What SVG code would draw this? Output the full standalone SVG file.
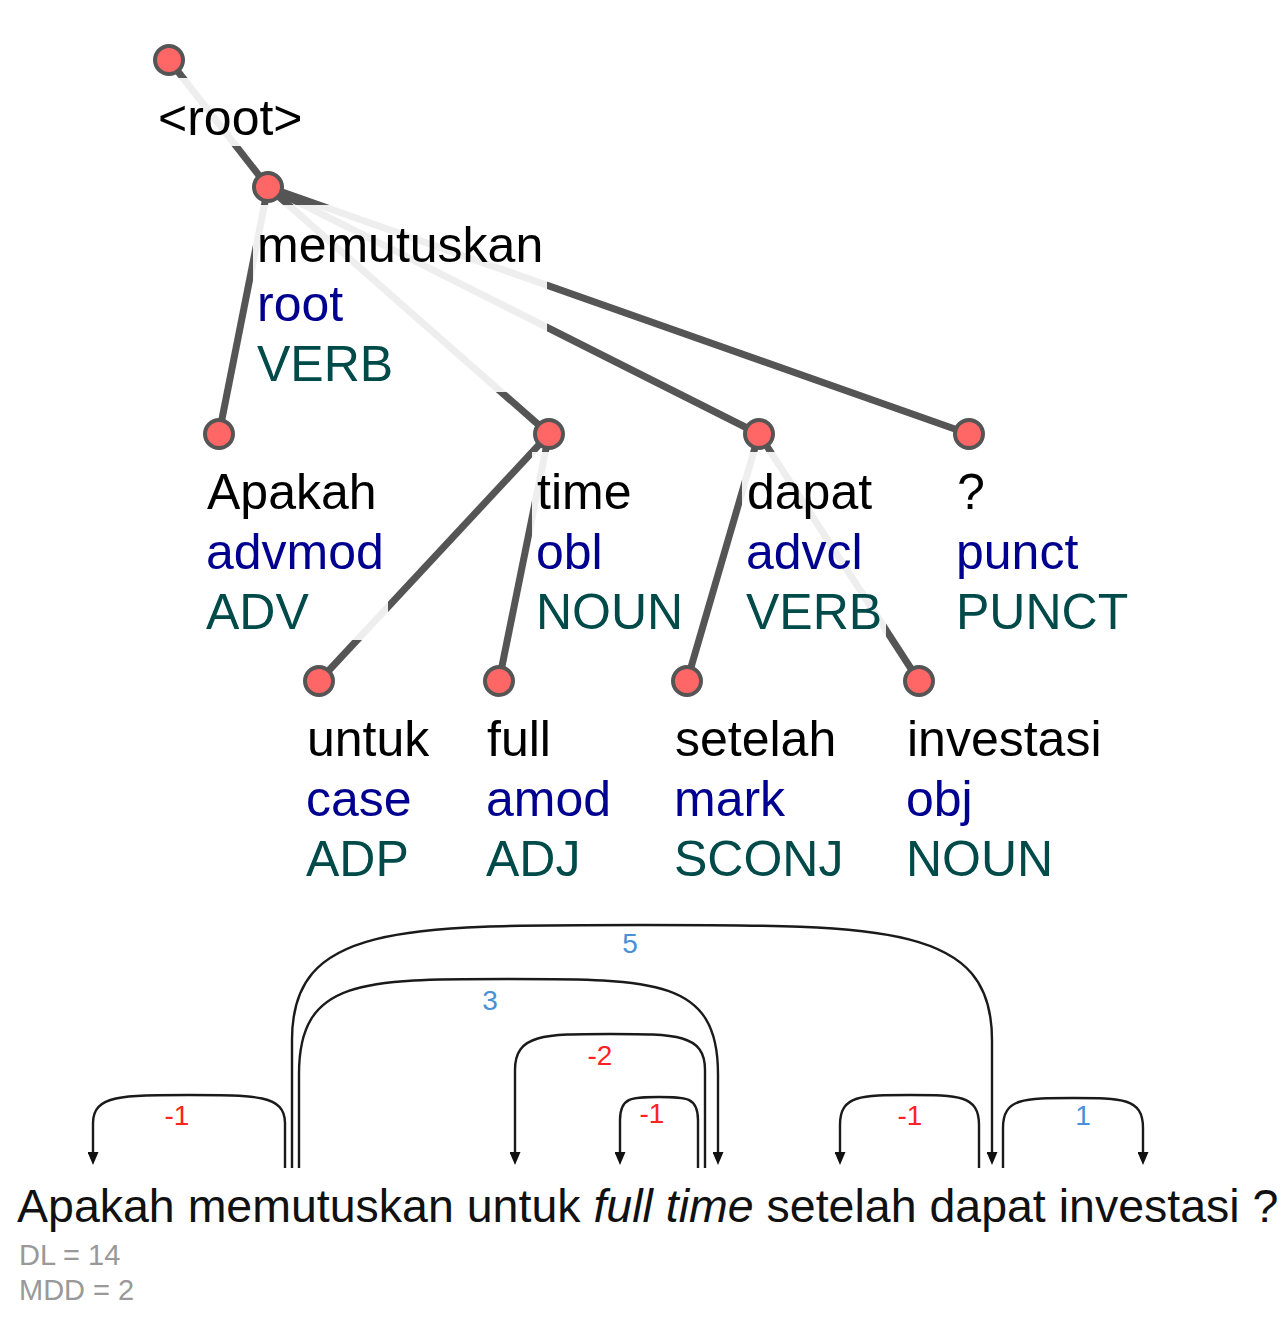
<svg xmlns="http://www.w3.org/2000/svg" width="1288" height="1334" viewBox="0 0 1288 1334">
<style>
.edge{stroke:#555;stroke-width:7;fill:none}
.box{fill:#fff;fill-opacity:0.9}
.node{fill:#ff6666;stroke:#555;stroke-width:4}
.w{font-family:"Liberation Sans",Arial,sans-serif;font-size:50px;fill:#000}
.d{font-family:"Liberation Sans",Arial,sans-serif;font-size:50px;fill:#000090}
.p{font-family:"Liberation Sans",Arial,sans-serif;font-size:50px;fill:#004a4a}
.arc{stroke:#1a1a1a;stroke-width:2.4;fill:none}
.arr{marker-end:url(#ah)}
.neg{font-family:"Liberation Sans",Arial,sans-serif;font-size:28px;fill:#f22;text-anchor:middle}
.pos{font-family:"Liberation Sans",Arial,sans-serif;font-size:28px;fill:#4a90d6;text-anchor:middle}
.sent{font-family:"Liberation Sans",Arial,sans-serif;font-size:46.5px;fill:#111}
.stat{font-family:"Liberation Sans",Arial,sans-serif;font-size:29px;fill:#999}
</style>
<defs>
<marker id="ah" viewBox="0 0 13 11" refX="5" refY="5.5" markerWidth="13" markerHeight="11" markerUnits="userSpaceOnUse" orient="auto">
<path d="M0,0 L13,5.5 L0,11 z" fill="#111"/>
</marker>
</defs>
<rect width="1288" height="1334" fill="#fff"/>
<g id="edges">
<line class="edge" x1="169" y1="60" x2="268" y2="187"/>
<line class="edge" x1="268" y1="187" x2="219" y2="434"/>
<line class="edge" x1="268" y1="187" x2="549" y2="434"/>
<line class="edge" x1="268" y1="187" x2="759" y2="434"/>
<line class="edge" x1="268" y1="187" x2="969" y2="434"/>
<line class="edge" x1="549" y1="434" x2="319" y2="681"/>
<line class="edge" x1="549" y1="434" x2="499" y2="681"/>
<line class="edge" x1="759" y1="434" x2="687" y2="681"/>
<line class="edge" x1="759" y1="434" x2="919" y2="681"/>
</g>
<g id="n-root">
<rect class="box" x="154" y="78" width="153" height="68"/>
<text class="w" x="158" y="135">&lt;root&gt;</text>
<circle class="node" cx="169" cy="60" r="14"/>
</g>
<g id="n-memutuskan">
<rect class="box" x="253" y="205" width="294" height="187"/>
<text class="w" x="257" y="262">memutuskan</text>
<text class="d" x="257" y="321">root</text>
<text class="p" x="257" y="381">VERB</text>
<circle class="node" cx="268" cy="187" r="14"/>
</g>
<g id="n-apakah">
<rect class="box" x="202" y="452" width="186" height="188"/>
<text class="w" x="207" y="509">Apakah</text>
<text class="d" x="206" y="569">advmod</text>
<text class="p" x="206" y="629">ADV</text>
<circle class="node" cx="219" cy="434" r="14"/>
</g>
<g id="n-time">
<rect class="box" x="532" y="452" width="155" height="188"/>
<text class="w" x="537" y="509">time</text>
<text class="d" x="536" y="569">obl</text>
<text class="p" x="536" y="629">NOUN</text>
<circle class="node" cx="549" cy="434" r="14"/>
</g>
<g id="n-dapat">
<rect class="box" x="742" y="452" width="144" height="188"/>
<text class="w" x="747" y="509">dapat</text>
<text class="d" x="746" y="569">advcl</text>
<text class="p" x="746" y="629">VERB</text>
<circle class="node" cx="759" cy="434" r="14"/>
</g>
<g id="n-punct">
<rect class="box" x="952" y="452" width="178" height="188"/>
<text class="w" x="957" y="509">?</text>
<text class="d" x="956" y="569">punct</text>
<text class="p" x="956" y="629">PUNCT</text>
<circle class="node" cx="969" cy="434" r="14"/>
</g>
<g id="n-untuk">
<rect class="box" x="302" y="699" width="132" height="188"/>
<text class="w" x="307" y="756">untuk</text>
<text class="d" x="306" y="816">case</text>
<text class="p" x="306" y="876">ADP</text>
<circle class="node" cx="319" cy="681" r="14"/>
</g>
<g id="n-full">
<rect class="box" x="482" y="699" width="130" height="188"/>
<text class="w" x="487" y="756">full</text>
<text class="d" x="486" y="816">amod</text>
<text class="p" x="486" y="876">ADJ</text>
<circle class="node" cx="499" cy="681" r="14"/>
</g>
<g id="n-setelah">
<rect class="box" x="670" y="699" width="172" height="188"/>
<text class="w" x="675" y="756">setelah</text>
<text class="d" x="674" y="816">mark</text>
<text class="p" x="674" y="876">SCONJ</text>
<circle class="node" cx="687" cy="681" r="14"/>
</g>
<g id="n-investasi">
<rect class="box" x="902" y="699" width="203" height="188"/>
<text class="w" x="907" y="756">investasi</text>
<text class="d" x="906" y="816">obj</text>
<text class="p" x="906" y="876">NOUN</text>
<circle class="node" cx="919" cy="681" r="14"/>
</g>
<g id="arcs">
<path class="arc arr" d="M285,1168 V1123 C285,1095 256,1095 189,1095 C122,1095 93,1095 93,1123 V1157"/>
<path class="arc arr" d="M292,1168 V1040 C292,925 397,925 642,925 C887,925 992,925 992,1040 V1157"/>
<path class="arc arr" d="M299,1168 V1074 C299,979 362,979 508,979 C655,979 718,979 718,1074 V1157"/>
<path class="arc arr" d="M705,1168 V1070 C705,1034 676,1034 610,1034 C544,1034 515,1034 515,1070 V1157"/>
<path class="arc arr" d="M698,1168 V1120 C698,1097 686,1097 659,1097 C632,1097 620,1097 620,1120 V1157"/>
<path class="arc arr" d="M979,1168 V1125 C979,1095 958,1095 910,1095 C861,1095 840,1095 840,1125 V1157"/>
<path class="arc arr" d="M1003,1168 V1128 C1003,1098 1024,1098 1073,1098 C1122,1098 1143,1098 1143,1128 V1157"/>
<text class="neg" x="177" y="1125">-1</text>
<text class="pos" x="630" y="953">5</text>
<text class="pos" x="490" y="1010">3</text>
<text class="neg" x="600" y="1065">-2</text>
<text class="neg" x="652" y="1123">-1</text>
<text class="neg" x="910" y="1125">-1</text>
<text class="pos" x="1083" y="1125">1</text>
</g>
<text class="sent" x="17" y="1222">Apakah memutuskan untuk <tspan font-style="italic">full time</tspan> setelah dapat investasi ?</text>
<text class="stat" x="19" y="1265">DL = 14</text>
<text class="stat" x="19" y="1300">MDD = 2</text>
</svg>
